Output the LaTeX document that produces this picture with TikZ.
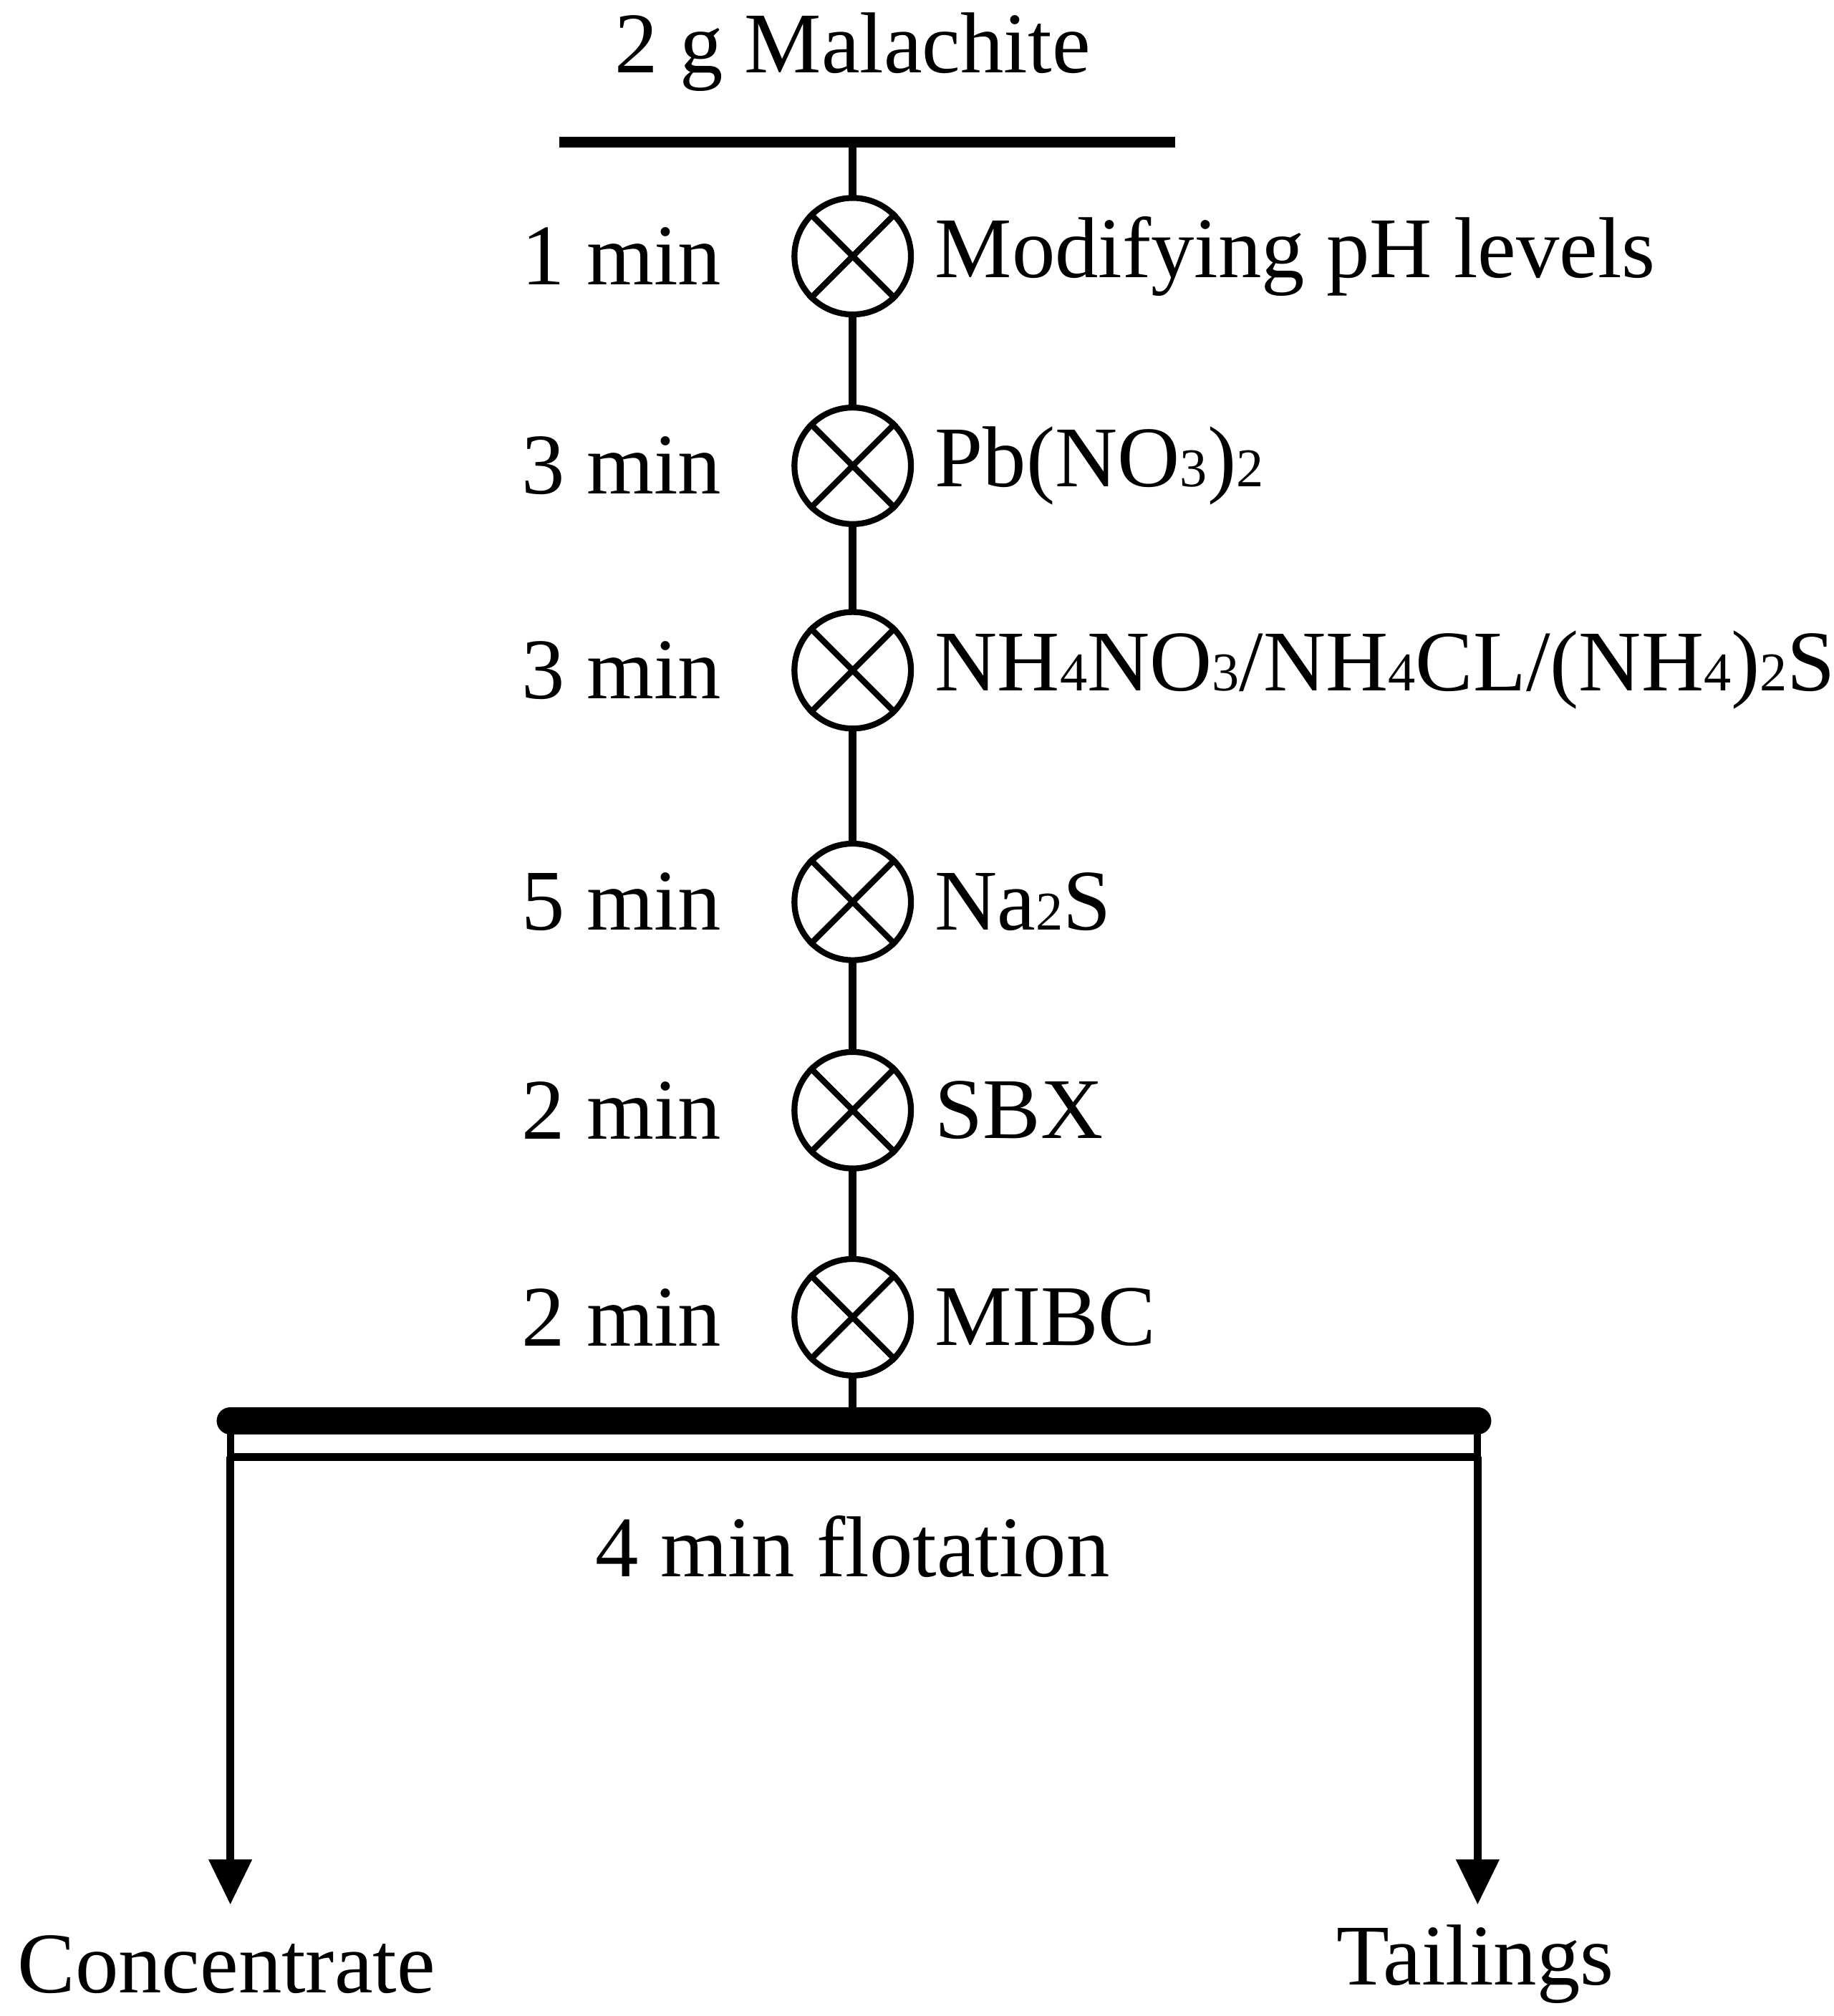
\documentclass[tikz,border=0pt]{standalone}
\usepackage{fontspec}
\setmainfont{Liberation Serif}
\usetikzlibrary{arrows.meta}
\newcommand{\mysb}[1]{{\fontsize{12}{12}\selectfont #1}}
\begin{document}
\begin{tikzpicture}[x=0.01cm,y=-0.01cm,
  txt/.style={font=\fontsize{19}{23}\selectfont, inner sep=0pt},
  mix/.style={circle, draw, line width=1.3pt, minimum size=0.9cm, fill=white, inner sep=0pt},
  lbl/.style={txt, anchor=east},
  rlbl/.style={txt, anchor=west}]
\useasboundingbox (0,0) rectangle (1417,1558);
\node[txt] (top) at (659,40) {2 g Malachite};
\coordinate (tl) at (432,110); \coordinate (tr) at (908,110);
\draw[line width=2.4pt] (tl) -- (tr);
\coordinate (vt) at (659,110); \coordinate (vb) at (659,1092);
\draw[line width=1.8pt] (vt) -- (vb);
\foreach \y/\t/\r/\n in {198/1 min/{Modifying pH levels}/a, 360/3 min/{Pb(NO\mysb{3})\mysb{2}}/b, 518/3 min/{NH\mysb{4}NO\mysb{3}{/}NH\mysb{4}CL{/}(NH\mysb{4})\mysb{2}S}/c, 697/5 min/{Na\mysb{2}S}/d, 858/2 min/SBX/e, 1018/2 min/MIBC/f}{
  \node[mix] (m\n) at (659,\y) {};
  \draw[line width=1.3pt] (m\n.45) -- (m\n.225) (m\n.135) -- (m\n.315);
  \node[lbl] (l\n) at (558,\y) {\t};
  \node[rlbl] (r\n) at (722,\y) {\r};
}
\coordinate (bl) at (178,1098); \coordinate (br) at (1142,1098);
\draw[line width=6pt, line cap=round] (bl) -- (br);
\draw[line width=1.6pt] (178,1098) rectangle (1142,1126);
\coordinate (al) at (178,1126); \coordinate (ar) at (1142,1126);
\coordinate (el) at (178,1472); \coordinate (er) at (1142,1472);
\draw[line width=1.8pt, -{Triangle[length=0.35cm,width=0.32cm]}] (al) -- (el);
\draw[line width=1.8pt, -{Triangle[length=0.35cm,width=0.32cm]}] (ar) -- (er);
\node[txt] (flot) at (659,1195) {4 min flotation};
\node[txt] (conc) at (175,1518) {Concentrate};
\node[txt] (tail) at (1140,1518) {Tailings};
\end{tikzpicture}
\end{document}
